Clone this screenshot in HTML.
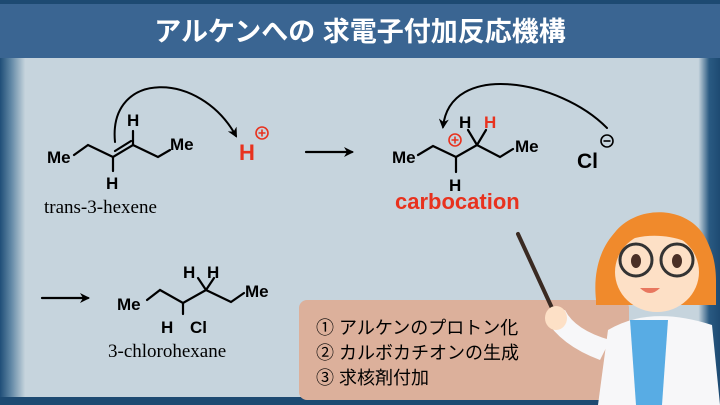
<!DOCTYPE html>
<html><head><meta charset="utf-8"><style>
html,body{margin:0;padding:0;width:720px;height:405px;overflow:hidden;background:#1d4a72}
svg{display:block}
.b{font-family:"Liberation Sans","Noto Sans CJK JP",sans-serif;font-weight:bold}
.s{font-family:"Liberation Serif",serif}
.j{font-family:"Liberation Sans","Noto Sans CJK JP",sans-serif}
</style></head><body>
<svg width="720" height="405" viewBox="0 0 720 405" xmlns="http://www.w3.org/2000/svg">
<defs>
<linearGradient id="lg" x1="0" x2="1" y1="0" y2="0">
<stop offset="0" stop-color="#1f4e78"/><stop offset="0.015" stop-color="#5f86a4"/><stop offset="0.035" stop-color="#c6d4dd"/><stop offset="0.97" stop-color="#c6d4dd"/><stop offset="0.985" stop-color="#2a5a82"/><stop offset="1" stop-color="#1d4a72"/>
</linearGradient>
<marker id="ah" markerWidth="10" markerHeight="10" refX="8" refY="5" orient="auto" markerUnits="userSpaceOnUse"><path d="M0,0 L10,5 L0,10 L3,5 z" fill="#000"/></marker>
</defs>
<rect x="0" y="0" width="720" height="405" fill="#1d4a72"/>
<rect x="0" y="55" width="720" height="342" fill="url(#lg)"/>
<rect x="0" y="4" width="720" height="54" fill="#3a6592"/>
<text x="360" y="41" text-anchor="middle" class="b" font-size="27" fill="#fff">アルケンへの 求電子付加反応機構</text>

<g stroke="#000" stroke-width="2.2" fill="none" stroke-linecap="round">
<polyline points="74,155 88,145 113,157 133,145 158,157 170,150"/>
<line x1="115" y1="151" x2="131" y2="141"/>
<line x1="113" y1="157" x2="113" y2="171"/>
<line x1="133" y1="145" x2="133" y2="131"/>
<path d="M115,142 C108,70 200,70 236,136" marker-end="url(#ah)" stroke-width="2"/>
<line x1="306" y1="152" x2="352" y2="152" marker-end="url(#ah)"/>
<polyline points="418,155 433,146 456,157 477,145 500,157 513,149"/>
<line x1="456" y1="157" x2="456" y2="172"/>
<line x1="477" y1="145" x2="468" y2="130"/>
<line x1="477" y1="145" x2="486" y2="130"/>
<path d="M607,128 C560,80 450,60 443,127" marker-end="url(#ah)" stroke-width="2"/>
<line x1="42" y1="298" x2="88" y2="298" marker-end="url(#ah)"/>
<polyline points="147,300 160,290 183,303 206,290 231,302 244,293"/>
<line x1="183" y1="303" x2="183" y2="314"/>
<line x1="206" y1="290" x2="198" y2="278"/>
<line x1="206" y1="290" x2="214" y2="278"/>
</g>
<g class="b" font-size="17" fill="#000">
<text x="47" y="163">Me</text>
<text x="170" y="150">Me</text>
<text x="106" y="189">H</text>
<text x="127" y="126">H</text>
<text x="392" y="163">Me</text>
<text x="515" y="152">Me</text>
<text x="449" y="191">H</text>
<text x="459" y="128">H</text>
<text x="484" y="128" fill="#e8321e">H</text>
<text x="577" y="168" font-size="21">Cl</text>
<text x="117" y="310">Me</text>
<text x="245" y="297">Me</text>
<text x="161" y="333">H</text>
<text x="190" y="333">Cl</text>
<text x="183" y="278">H</text>
<text x="207" y="278">H</text>
</g>
<text x="239" y="160" class="b" font-size="22" fill="#e8321e">H</text>
<circle cx="262" cy="133" r="6" fill="none" stroke="#e8321e" stroke-width="1.6"/>
<path d="M258.5,133h7M262,129.5v7" stroke="#e8321e" stroke-width="1.6"/>
<circle cx="455" cy="140" r="6" fill="none" stroke="#e8321e" stroke-width="1.6"/>
<path d="M451.5,140h7M455,136.5v7" stroke="#e8321e" stroke-width="1.6"/>
<circle cx="607" cy="141" r="6" fill="none" stroke="#000" stroke-width="1.6"/>
<path d="M603.5,141h7" stroke="#000" stroke-width="1.6"/>
<text x="395" y="209" class="b" font-size="22" fill="#e8321e">carbocation</text>
<text x="44" y="213" class="s" font-size="19">trans-3-hexene</text>
<text x="108" y="357" class="s" font-size="19">3-chlorohexane</text>

<rect x="299" y="300" width="330" height="100" rx="8" fill="#dcb09b"/>
<g class="j" font-size="18" fill="#000">
<text x="316" y="334">① アルケンのプロトン化</text>
<text x="316" y="359">② カルボカチオンの生成</text>
<text x="316" y="384">③ 求核剤付加</text>
</g>

<line x1="518" y1="234" x2="563" y2="332" stroke="#3a2a22" stroke-width="4" stroke-linecap="round"/>
<path d="M596,300 C585,195 715,180 716,280 L716,305 L596,305 z" fill="#f08a2c"/>
<ellipse cx="657" cy="272" rx="42" ry="40" fill="#fde0c6"/>
<path d="M606,252 C616,200 704,196 712,258 C690,235 640,225 606,252 z" fill="#f08a2c"/>
<circle cx="636" cy="260" r="16" fill="none" stroke="#333" stroke-width="3"/>
<circle cx="677" cy="260" r="16" fill="none" stroke="#333" stroke-width="3"/>
<ellipse cx="636" cy="261" rx="5" ry="7" fill="#4a3026"/>
<ellipse cx="677" cy="261" rx="5" ry="7" fill="#4a3026"/>
<path d="M640,288 q10,10 20,0 z" fill="#e8775f"/>
<path d="M598,405 L608,330 Q650,305 712,325 L720,405 z" fill="#f7f7f9"/>
<path d="M630,320 L668,320 L662,405 L636,405 z" fill="#58ace4"/>
<path d="M545,318 Q560,345 600,360 L610,340 Q575,330 565,310 z" fill="#f7f7f9"/>
<ellipse cx="556" cy="318" rx="11" ry="12" fill="#fde0c6"/>
</svg>
</body></html>
